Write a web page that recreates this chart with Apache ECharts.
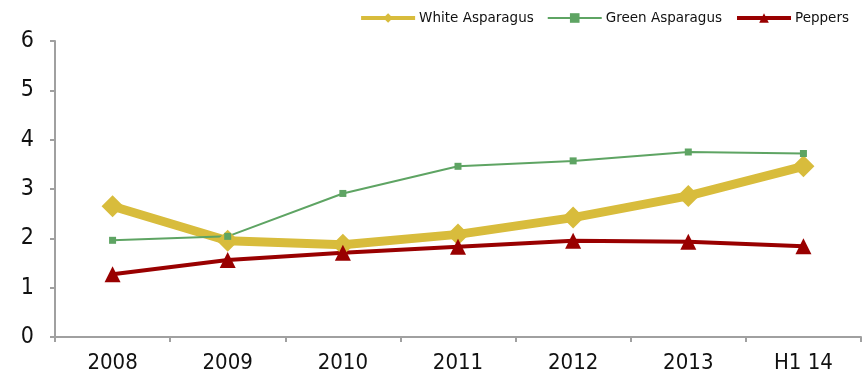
<!DOCTYPE html>
<html>
<head>
<meta charset="utf-8">
<script src="https://cdn.jsdelivr.net/npm/echarts@6/dist/echarts.min.js"></script>
<style>html,body{margin:0;padding:0;background:#fff;}#c{width:863px;height:381px;}</style>
</head>
<body>
<div id="c"></div>
<script>
const categories = ['2008', '2009', '2010', '2011', '2012', '2013', 'H1 14'];
const whiteAsparagus = [2.65, 1.95, 1.87, 2.08, 2.42, 2.86, 3.46];
const greenAsparagus = [1.96, 2.04, 2.91, 3.46, 3.57, 3.75, 3.72];
const peppers = [1.27, 1.56, 1.71, 1.83, 1.95, 1.93, 1.84];
const yTicks = [0, 1, 2, 3, 4, 5, 6];

const axisFont = "'Liberation Sans Narrow', 'DejaVu Sans Condensed', sans-serif";
const chart = echarts.init(document.getElementById('c'));
chart.setOption({
  animation: false,
  backgroundColor: '#fff',
  grid: { left: 55, right: 2, top: 41, bottom: 44 },
  legend: {
    right: 9, top: 6,
    itemWidth: 54, itemHeight: 12, itemGap: 13,
    textStyle: { fontFamily: 'DejaVu Sans', fontSize: 13.5, color: '#111', padding: [0, 0, 0, -1] },
    data: [
      { name: 'White Asparagus', lineStyle: { width: 4 } },
      { name: 'Green Asparagus', lineStyle: { width: 2 } },
      { name: 'Peppers', lineStyle: { width: 4 } }
    ]
  },
  xAxis: {
    type: 'category', data: categories, boundaryGap: true,
    axisLine: { lineStyle: { color: '#A0A0A0', width: 2 } },
    axisTick: { show: true, alignWithLabel: false, length: 5, lineStyle: { color: '#A0A0A0', width: 2 } },
    axisLabel: { margin: 15, fontFamily: axisFont, fontSize: 22, color: '#111' },
    splitLine: { show: false }
  },
  yAxis: {
    type: 'value', min: yTicks[0], max: yTicks[yTicks.length - 1], interval: 1,
    axisLine: { show: true, lineStyle: { color: '#A0A0A0', width: 2 } },
    axisTick: { show: true, length: 5, lineStyle: { color: '#A0A0A0', width: 2 } },
    axisLabel: { margin: 21, fontFamily: axisFont, fontSize: 23, color: '#111' },
    splitLine: { show: false }
  },
  series: [
    {
      name: 'White Asparagus', type: 'line', data: whiteAsparagus,
      symbol: 'diamond', symbolSize: 22,
      lineStyle: { color: '#D8BC3C', width: 9 },
      itemStyle: { color: '#D8BC3C' }
    },
    {
      name: 'Green Asparagus', type: 'line', data: greenAsparagus,
      symbol: 'rect', symbolSize: 7,
      lineStyle: { color: '#5EA463', width: 2 },
      itemStyle: { color: '#5EA463' }
    },
    {
      name: 'Peppers', type: 'line', data: peppers,
      symbol: 'triangle', symbolSize: 16,
      lineStyle: { color: '#990000', width: 4 },
      itemStyle: { color: '#990000' }
    }
  ]
});
</script>
</body>
</html>
